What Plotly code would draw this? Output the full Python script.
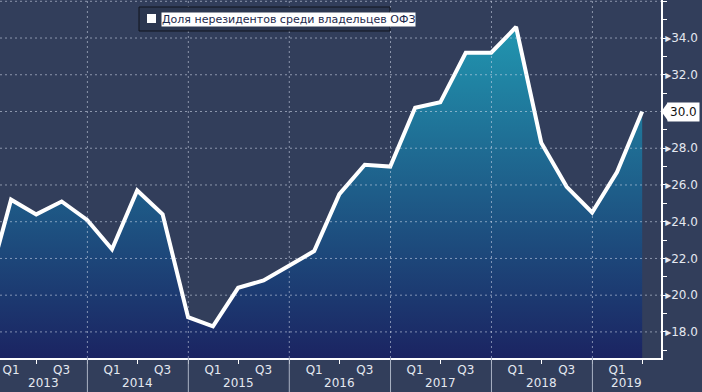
import datetime as dt
import plotly.graph_objects as go

# ---- data ----
quarter_ends = ["2012-12-31",
                "2013-03-31", "2013-06-30", "2013-09-30", "2013-12-31",
                "2014-03-31", "2014-06-30", "2014-09-30", "2014-12-31",
                "2015-03-31", "2015-06-30", "2015-09-30", "2015-12-31",
                "2016-03-31", "2016-06-30", "2016-09-30", "2016-12-31",
                "2017-03-31", "2017-06-30", "2017-09-30", "2017-12-31",
                "2018-03-31", "2018-06-30", "2018-09-30", "2018-12-31",
                "2019-03-31", "2019-06-30"]
share = [20.2,
         25.2, 24.4, 25.1, 24.1,
         22.5, 25.7, 24.4, 18.8,
         18.3, 20.4, 20.8, 21.6,
         22.4, 25.5, 27.1, 27.0,
         30.2, 30.5, 33.2, 33.2,
         34.6, 28.3, 25.9, 24.5,
         26.7, 30.0]
series_name = "Доля нерезидентов среди владельцев ОФЗ"
years = [2013, 2014, 2015, 2016, 2017, 2018, 2019]
y_major = [18, 20, 22, 24, 26, 28, 30, 32, 34, 36]
x_range = ["2013-02-19", "2019-09-06"]
y_range = [16.58, 36.07]

# ---- style ----
BG = "#323e5b"
TXT = "#e4e8f0"
FONT = "DejaVu Sans, Verdana, sans-serif"
GRID = "rgba(215,222,238,0.55)"
W, H = 702, 392
ML, MR, MT, MB = 0, 41, 0, 34
PW, PH = W - ML - MR, H - MT - MB


def px_x(p):
    return p / PW


def px_y(p):
    return 1 - p / PH


fig = go.Figure()
fig.add_trace(go.Scatter(
    x=quarter_ends, y=share, mode="lines", name=series_name,
    line=dict(color="white", width=4),
    fill="tozeroy",
    fillgradient=dict(type="vertical", start=y_range[0], stop=34.6,
                      colorscale=[[0, "#1b2462"], [1, "#2196b0"]]),
    showlegend=False, hoverinfo="skip"))

# quarter labels (Q1, Q3) at quarter ends
q_vals, q_text = [], []
for d in quarter_ends:
    m = int(d[5:7])
    if m == 3:
        q_vals.append(d); q_text.append("Q1")
    elif m == 9:
        q_vals.append(d); q_text.append("Q3")

shapes = []
annotations = []
x0 = dt.date.fromisoformat(x_range[0])
x1 = dt.date.fromisoformat(x_range[1])
for yr in years:
    jan1 = dt.date(yr, 1, 1)
    if x0 < jan1 < x1:
        shapes.append(dict(type="line", xref="x", yref="paper",
                           x0=jan1.isoformat(), x1=jan1.isoformat(), y0=0, y1=1,
                           line=dict(color=GRID, width=1, dash="2px,3px"), layer="above"))
        shapes.append(dict(type="line", xref="x", yref="paper",
                           x0=jan1.isoformat(), x1=jan1.isoformat(), y0=0, y1=-MB / PH,
                           line=dict(color="#aab2c4", width=1), layer="above"))
    a = max(jan1, x0)
    b = min(dt.date(yr + 1, 1, 1), x1)
    mid = a + (b - a) / 2
    annotations.append(dict(x=mid.isoformat(), y=px_y(383), xref="x", yref="paper",
                            text=str(yr), showarrow=False, yanchor="middle",
                            font=dict(family=FONT, size=12, color=TXT)))

for v in y_major:
    shapes.append(dict(type="line", xref="paper", yref="y", x0=0, x1=1, y0=v, y1=v,
                       line=dict(color=GRID, width=1, dash="2px,3px"), layer="above"))

# legend box
shapes.append(dict(type="rect", xref="paper", yref="paper",
                   x0=px_x(139), x1=px_x(390), y0=px_y(31), y1=px_y(7),
                   line=dict(color="#10141f", width=1), fillcolor="#2c3750", layer="above"))
shapes.append(dict(type="rect", xref="paper", yref="paper",
                   x0=px_x(147), x1=px_x(156), y0=px_y(23), y1=px_y(14),
                   line=dict(color="white", width=0), fillcolor="white", layer="above"))
annotations.append(dict(x=px_x(161), y=px_y(19), xref="paper", yref="paper",
                        text=series_name, showarrow=False, xanchor="left", yanchor="middle",
                        bgcolor="white", borderpad=0,
                        font=dict(family=FONT, size=11, color="#1d2a4d")))

# last value callout (replaces the tick label it covers)
last = share[-1]
shapes.append(dict(type="path", xref="paper", yref="y",
                   path=f"M 1.0005,{last} L {1 + 7 / PW},{last + 0.5} L {1 + 7 / PW},{last - 0.5} Z",
                   fillcolor="white", line=dict(width=0), layer="above"))
annotations.append(dict(x=1 + 6 / PW, y=last, xref="paper", yref="y",
                        text=f"{last:.1f}", showarrow=False, xanchor="left", yanchor="middle",
                        bgcolor="white", borderpad=2,
                        font=dict(family=FONT, size=12, color="#111111")))
y_text = ["" if abs(v - last) < 1.0 else f"▸{v:.1f}" for v in y_major]

fig.update_layout(
    width=W, height=H,
    margin=dict(l=ML, r=MR, t=MT, b=MB, autoexpand=False),
    paper_bgcolor=BG, plot_bgcolor=BG,
    showlegend=False,
    shapes=shapes, annotations=annotations,
    xaxis=dict(type="date", range=x_range, showgrid=False, zeroline=False,
               showline=True, linecolor="white", linewidth=1.5,
               tickmode="array", tickvals=q_vals, ticktext=q_text, ticks="",
               tickfont=dict(family=FONT, size=12, color=TXT),
               minor=dict(ticks="outside", ticklen=4, tickcolor="white",
                          dtick="M6", tick0="2013-06-30", showgrid=False)),
    yaxis=dict(side="right", range=y_range, showgrid=False, zeroline=False,
               showline=True, linecolor="white", linewidth=1.5,
               tickmode="array", tickvals=y_major, ticktext=y_text, ticks="",
               tickfont=dict(family=FONT, size=12, color=TXT),
               minor=dict(ticks="outside", ticklen=4, tickcolor="white", dtick=1,
                          tick0=17, showgrid=False)),
)

fig.write_html("out.html", config={"displayModeBar": False},
               post_script="document.body.style.margin='0';document.body.style.overflow='hidden';")
